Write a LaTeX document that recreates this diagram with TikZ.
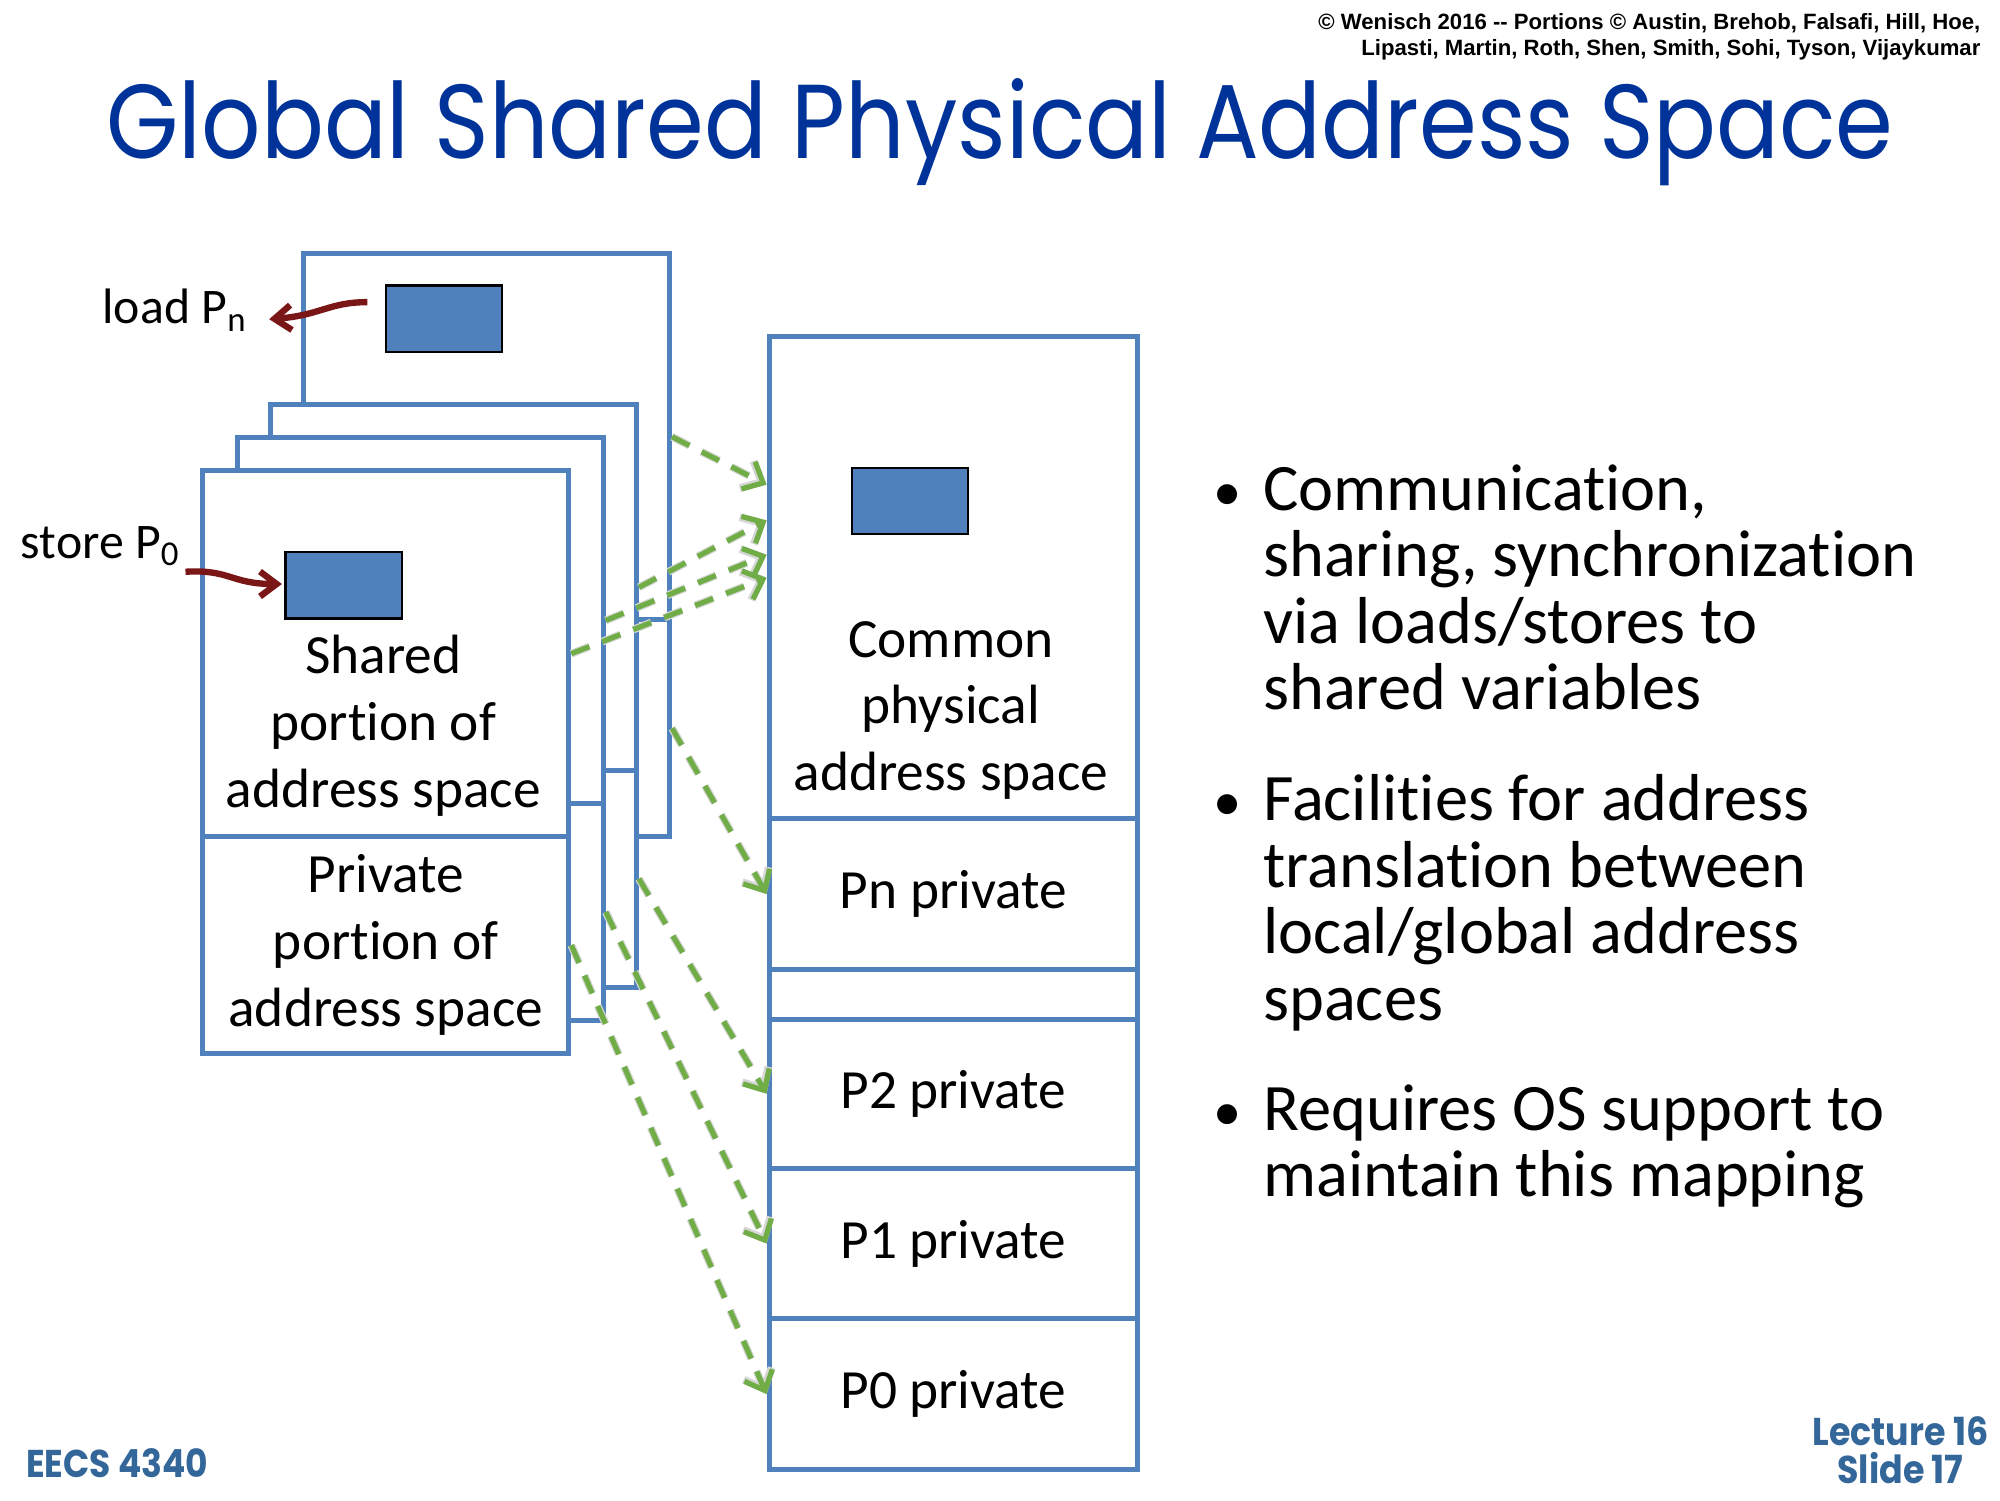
\documentclass[tikz,border=0pt]{standalone}
\usepackage{fontspec}
\setmainfont[Ligatures=NoCommon]{Carlito}
\newfontfamily\titlefont{Poppins}
\newfontfamily\arialfont{Liberation Sans}
\usetikzlibrary{arrows.meta,calc}
\newdimen\pu \pu=0.016199cm
\definecolor{boxblue}{RGB}{79,129,189}
\definecolor{titleblue}{RGB}{0,51,153}
\definecolor{footblue}{RGB}{51,102,153}
\definecolor{arrgreen}{RGB}{112,173,71}
\definecolor{darkred}{RGB}{122,22,22}
\tikzset{
  region/.style={draw=boxblue, line width=1.8pt, fill=white, rectangle, inner sep=0pt,
    anchor=north west, font=\fontsize{20}{24.2}\selectfont, align=center},
  smallrect/.style={draw=black, line width=0.8pt, fill=boxblue, rectangle, inner sep=0pt,
    anchor=north west, minimum width=91\pu, minimum height=52\pu},
  boxtext/.style={inner sep=0pt, font=\fontsize{20}{24.2}\selectfont, align=center},
  map/.style={arrgreen, line width=1.9pt, dash pattern=on 7pt off 5pt,
    -{Straight Barb[length=6pt,width=11pt]}},
  mapshadow/.style={black!16, line width=2.8pt, dash pattern=on 7pt off 5pt,
    -{Straight Barb[length=6pt,width=11pt]}},
  redarr/.style={darkred, line width=2.3pt, -{Straight Barb[length=6pt,width=9pt]}},
  lbl/.style={inner sep=0pt, font=\fontsize{18}{21}\selectfont, anchor=base west},
  bullettext/.style={inner sep=0pt, anchor=north west, align=left,
    font=\fontsize{24}{24}\selectfont},
  foot/.style={inner sep=0pt, text=footblue, font=\titlefont\bfseries\fontsize{14}{13.8}\selectfont, align=center}
}
\begin{document}
\begin{tikzpicture}[x=0.016199cm, y=-0.016199cm]
\useasboundingbox[fill=white] (0,0) rectangle (1568,1176);

% header
\node[inner sep=0pt, anchor=north east, align=right,
  font=\arialfont\bfseries\fontsize{8}{9.3}\selectfont] (copy) at (1553,10)
  {© Wenisch 2016 -- Portions © Austin, Brehob, Falsafi, Hill, Hoe,\\
   Lipasti, Martin, Roth, Shen, Smith, Sohi, Tyson, Vijaykumar};
\node[inner sep=0pt, anchor=base, text=titleblue,
  font=\titlefont\fontsize{38}{46}\selectfont] (title) at (784,124)
  {\scalebox{0.885}[1]{Global Shared Physical Address Space}};

% processor address spaces (back to front)
\node[region, minimum width=287\pu, minimum height=287\pu] (pnsh) at (236,197) {};
\node[region, minimum width=287\pu, minimum height=170\pu] (pnpr) at (236,484) {};
\node[smallrect] (pnrect) at (302,223) {};

\node[region, minimum width=287\pu, minimum height=287\pu] (p2sh) at (210,315) {};
\node[region, minimum width=287\pu, minimum height=170\pu] (p2pr) at (210,602) {};

\node[region, minimum width=287\pu, minimum height=287\pu] (p1sh) at (184,341) {};
\node[region, minimum width=287\pu, minimum height=170\pu] (p1pr) at (184,628) {};

\node[region, minimum width=287\pu, minimum height=287\pu] (p0sh) at (157,367) {};
\node[region, minimum width=287\pu, minimum height=170\pu] (p0pr) at (157,654)
  {Private\\portion of\\address space};
\node[smallrect] (p0rect) at (223,432) {};
\node[boxtext] (p0shtext) at (300.5,569) {Shared\\portion of\\address space};

% common physical address space
\node[region, minimum width=289\pu, minimum height=378\pu] (common) at (601,262) {};
\node[smallrect] (comrect) at (667,366) {};
\node[boxtext] (comtext) at (745.5,557) {Common\\physical\\address space};
\node[region, minimum width=289\pu, minimum height=118\pu] (pnpriv) at (601,640) {Pn private};
\node[region, minimum width=289\pu, minimum height=39\pu] (gap) at (601,758) {};
\node[region, minimum width=289\pu, minimum height=117\pu] (p2priv) at (601,797) {P2 private};
\node[region, minimum width=289\pu, minimum height=118\pu] (p1priv) at (601,914) {P1 private};
\node[region, minimum width=289\pu, minimum height=118\pu] (p0priv) at (601,1032) {P0 private};

% entry points on the common region
\coordinate (cin1) at ($(common.west)+(0,-73)$);
\coordinate (cin2) at ($(common.west)+(0,-45)$);
\coordinate (cin3) at ($(common.west)+(0,-18)$);
\coordinate (cin4) at (common.west);

% mapping arrows
\foreach \a/\b in {pnsh.east/cin1, p2sh.east/cin2, p1sh.east/cin3, p0sh.east/cin4,
                   pnpr.east/pnpriv.west, p2pr.east/p2priv.west, p1pr.east/p1priv.west, p0pr.east/p0priv.west}{
  \begin{scope}[shift={(2,3)}]
    \draw[mapshadow] (\a) -- (\b);
  \end{scope}
}
\foreach \a/\b in {pnsh.east/cin1, p2sh.east/cin2, p1sh.east/cin3, p0sh.east/cin4,
                   pnpr.east/pnpriv.west, p2pr.east/p2priv.west, p1pr.east/p1priv.west, p0pr.east/p0priv.west}{
  \draw[map] (\a) -- (\b);
}

% load / store labels
\node[lbl] (loadlbl) at (80,254) {load P\textsubscript{n}};
\node[lbl] (storelbl) at (16,438) {store P\textsubscript{0}};
\draw[redarr] ($(pnrect.west)+(-14,-13)$) .. controls +(-30,0) and +(40,-3) .. ($(loadlbl.east)+(17,7)$);
\draw[redarr] ($(storelbl.south east)+(4,4)$) .. controls +(35,-2) and +(-40,0) .. ($(p0rect.west)+(-2,-1)$);

% bullets
\node[bullettext] (b1) at (990,364)
  {\llap{\scalebox{0.85}{•}\hspace{8pt}}Communication,\\sharing, synchronization\\via loads/stores to\\shared variables};
\node[bullettext] (b2) at (990,607)
  {\llap{\scalebox{0.85}{•}\hspace{8pt}}Facilities for address\\translation between\\local/global address\\spaces};
\node[bullettext] (b3) at (990,850)
  {\llap{\scalebox{0.85}{•}\hspace{8pt}}Requires OS support to\\maintain this mapping};

% footer
\node[foot, anchor=base west] (course) at (20,1158) {\scalebox{0.89}[1]{EECS 4340}};
\node[foot, anchor=north] (slide) at (1490,1110) {\scalebox{0.9}[1]{Lecture 16}\\\scalebox{0.9}[1]{Slide 17}};
\end{tikzpicture}
\end{document}
